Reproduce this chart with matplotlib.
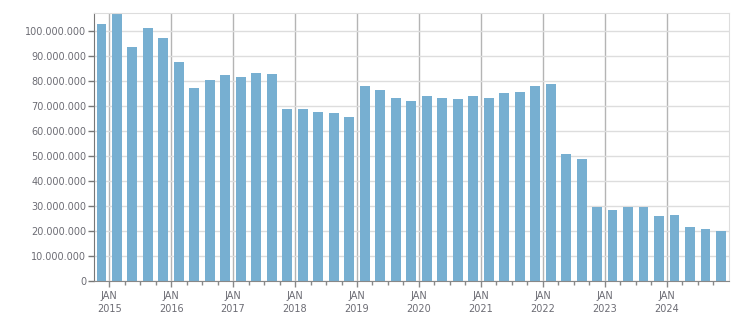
import matplotlib
matplotlib.use('Agg')
import matplotlib.pyplot as plt
import numpy as np
from matplotlib.ticker import FuncFormatter, FixedLocator

# quarterly values, Q4 2014 .. Q4 2024
values = [102.7, 106.7, 93.5, 101.1, 97.1, 87.5, 77.1, 80.3, 82.3, 81.5,
          83.1, 82.7, 68.7, 68.7, 67.5, 67.1, 65.5, 77.9, 76.3, 73.1,
          71.9, 73.9, 73.1, 72.7, 73.9, 73.1, 75.1, 75.5, 77.9, 78.7,
          50.7, 48.7, 29.6, 28.4, 29.6, 29.6, 26.0, 26.4, 21.6, 20.8,
          20.0]
values = np.array(values) * 1e6
years = list(range(2015, 2025))
year_labels = ['JAN\n%d' % y for y in years]

x = np.arange(len(values))
jan_pos = [0.5 + 4 * i for i in range(len(years))]
minor_pos = [p + k for p in jan_pos for k in (1, 2, 3)]

bar_color = '#77afd1'
text_color = '#6c6c74'

fig = plt.figure(figsize=(7.51, 3.13), dpi=100)
ax = fig.add_axes([0.1248, 0.1022, 0.8455, 0.8553])

ax.bar(x, values, width=0.64, color=bar_color, zorder=2)

ax.set_xlim(-0.5, 40.5)
ax.set_ylim(0, 107e6)
ax.set_yticks(np.arange(0, 100e6 + 1, 10e6))
ax.yaxis.set_major_formatter(FuncFormatter(lambda v, p: '{:,.0f}'.format(v).replace(',', '.')))

ax.xaxis.set_major_locator(FixedLocator(jan_pos))
ax.xaxis.set_minor_locator(FixedLocator(minor_pos))
ax.set_xticklabels(year_labels, linespacing=1.35)

ax.grid(axis='y', color='#dddddd', linewidth=1, zorder=0)
for p in jan_pos:
    ax.axvline(p, color='#b4b4b4', linewidth=1, zorder=1)

for s in ['top', 'right']:
    ax.spines[s].set_color('#dddddd')
ax.spines['left'].set_color('#777777')
ax.spines['bottom'].set_color('#888888')

ax.tick_params(axis='y', length=4, width=1, color='#777777', labelsize=7.0,
               labelcolor=text_color, pad=1.5)
ax.tick_params(axis='x', which='major', length=4, width=1, color='#888888',
               labelsize=7.0, labelcolor=text_color, pad=3)
ax.tick_params(axis='x', which='minor', length=3, width=1, color='#888888')

fig.savefig('out.png', dpi=100)
